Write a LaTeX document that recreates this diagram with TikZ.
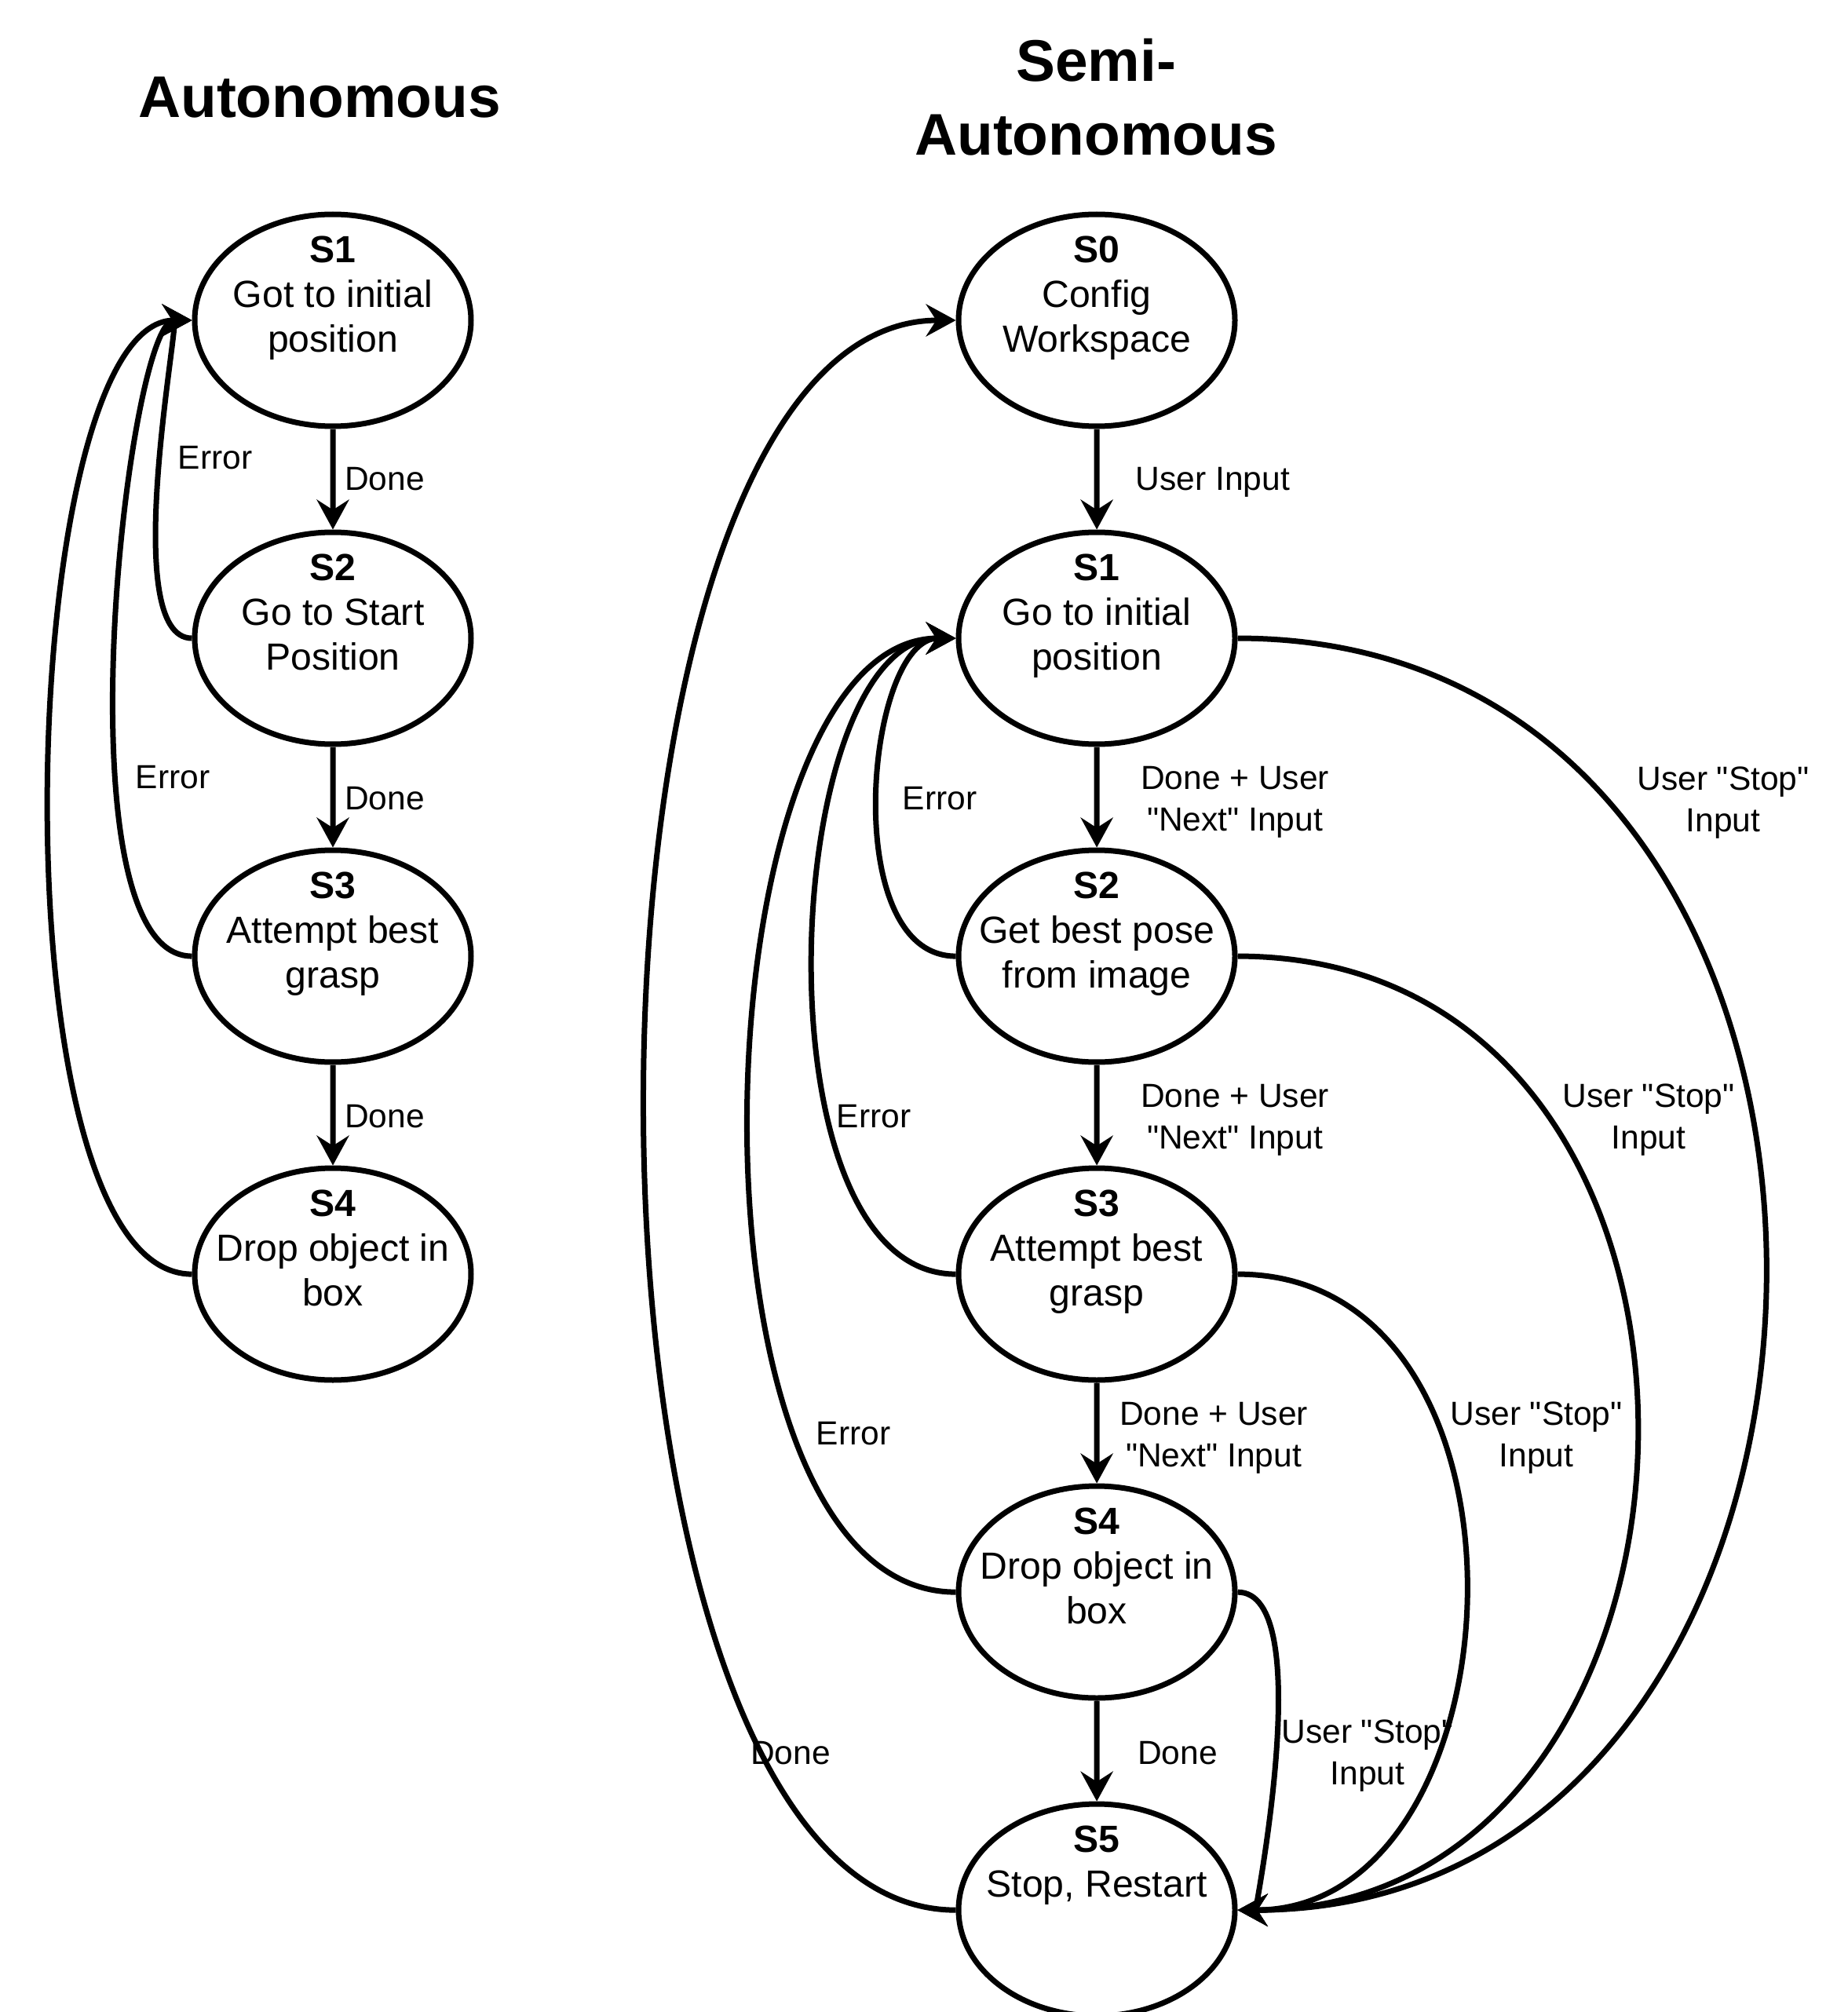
\documentclass[tikz,border=0pt]{standalone}
\usepackage{fontspec}
\setmainfont{Liberation Sans}[Ligatures=TeXOff]
\usetikzlibrary{arrows.meta,shapes.geometric}

\begin{document}
\begin{tikzpicture}[scale=0.1]
        \tikzstyle{every node}+=[inner sep=0pt]
        \tikzstyle{stateshape}=[draw=black, line width=0.07cm, ellipse, minimum width=3.52cm, minimum height=2.7cm]
        \tikzstyle{statetext}=[anchor=north, align=center, font=\fontsize{13.7}{16.3}\selectfont]
        \tikzstyle{lbl}=[align=center, font=\fontsize{12.1}{15.1}\selectfont]
        \tikzstyle{heading}=[align=center, font=\fontsize{21.3}{26.5}\selectfont\bfseries]
        \tikzstyle{trans}=[draw=black, line width=0.07cm, -{Stealth[length=0.38cm, width=0.41cm, inset=0.13cm]}]
        \useasboundingbox (0,0) rectangle (235.3,-256.3);
        \node [heading, anchor=base] (tauto) at (40.7,-15.0) {Autonomous};
        \node [heading, anchor=north] (tsemi) at (139.6,-4.9) {Semi-\\Autonomous};
        \node [stateshape] (a1) at (42.4,-40.8) {};
        \node [statetext] (a1txt) at (42.4,-30.0) {\textbf{S1}\\Got to initial\\position};
        \node [stateshape] (a2) at (42.4,-81.3) {};
        \node [statetext] (a2txt) at (42.4,-70.5) {\textbf{S2}\\Go to Start\\Position};
        \node [stateshape] (a3) at (42.4,-121.8) {};
        \node [statetext] (a3txt) at (42.4,-111.0) {\textbf{S3}\\Attempt best\\grasp};
        \node [stateshape] (a4) at (42.4,-162.3) {};
        \node [statetext] (a4txt) at (42.4,-151.5) {\textbf{S4}\\Drop object in\\box};
        \node [stateshape] (r0) at (139.7,-40.8) {};
        \node [statetext] (r0txt) at (139.7,-30.0) {\textbf{S0}\\Config\\Workspace};
        \node [stateshape] (r1) at (139.7,-81.3) {};
        \node [statetext] (r1txt) at (139.7,-70.5) {\textbf{S1}\\Go to initial\\position};
        \node [stateshape] (r2) at (139.7,-121.8) {};
        \node [statetext] (r2txt) at (139.7,-111.0) {\textbf{S2}\\Get best pose\\from image};
        \node [stateshape] (r3) at (139.7,-162.3) {};
        \node [statetext] (r3txt) at (139.7,-151.5) {\textbf{S3}\\Attempt best\\grasp};
        \node [stateshape] (r4) at (139.7,-202.8) {};
        \node [statetext] (r4txt) at (139.7,-192.0) {\textbf{S4}\\Drop object in\\box};
        \node [stateshape] (r5) at (139.7,-243.3) {};
        \node [statetext] (r5txt) at (139.7,-232.5) {\textbf{S5}\\Stop, Restart};
        \draw [trans] (a1) -- (a2);
        \node [lbl] (adone1) at (49.0,-61.0) {Done};
        \draw [trans] (a2) -- (a3);
        \node [lbl] (adone2) at (49.0,-101.7) {Done};
        \draw [trans] (a3) -- (a4);
        \node [lbl] (adone3) at (49.0,-142.2) {Done};
        \draw [trans] (a2.west) .. controls +(-9.4,0) and +(-1.5,0) .. (a1.west);
        \node [lbl] (aerr1) at (27.4,-58.3) {Error};
        \draw [trans] (a3.west) .. controls +(-17.5,0) and +(-8.2,0) .. (a1.west);
        \node [lbl] (aerr2) at (22.0,-99.0) {Error};
        \draw [trans] (a4.west) .. controls +(-25.8,0) and +(-22.6,0) .. (a1.west);
        \draw [trans] (r0) -- (r1);
        \node [lbl] (ruser) at (154.5,-61.4) {User Input};
        \draw [trans] (r1) -- (r2);
        \node [lbl] (rnext1) at (157.3,-102.2) {Done + User\\"Next" Input};
        \draw [trans] (r2) -- (r3);
        \node [lbl] (rnext2) at (157.3,-142.7) {Done + User\\"Next" Input};
        \draw [trans] (r3) -- (r4);
        \node [lbl] (rnext3) at (154.6,-183.2) {Done + User\\"Next" Input};
        \draw [trans] (r4) -- (r5);
        \node [lbl] (rdone1) at (150.0,-223.3) {Done};
        \draw [trans] (r5.west) .. controls +(-52.8,0) and +(-52.6,0) .. (r0.west);
        \node [lbl] (rdone2) at (100.7,-223.3) {Done};
        \draw [trans] (r2.west) .. controls +(-15.1,0) and +(-11.4,0) .. (r1.west);
        \node [lbl] (rerr1) at (119.7,-101.7) {Error};
        \draw [trans] (r3.west) .. controls +(-26.1,0) and +(-22.3,0) .. (r1.west);
        \node [lbl] (rerr2) at (111.3,-142.2) {Error};
        \draw [trans] (r4.west) .. controls +(-37.0,0) and +(-33.2,0) .. (r1.west);
        \node [lbl] (rerr3) at (108.7,-182.6) {Error};
        \draw [trans] (r1.east) .. controls +(91.3,0) and +(87.6,0) .. (r5.east);
        \node [lbl] (rstop1) at (219.5,-102.3) {User "Stop"\\Input};
        \draw [trans] (r2.east) .. controls +(69.5,0) and +(65.8,0) .. (r5.east);
        \node [lbl] (rstop2) at (210.0,-142.7) {User "Stop"\\Input};
        \draw [trans] (r3.east) .. controls +(40.5,0) and +(36.8,0) .. (r5.east);
        \node [lbl] (rstop3) at (195.7,-183.2) {User "Stop"\\Input};
        \draw [trans] (r4.east) .. controls +(10.2,0) and +(2.2,0) .. (r5.east);
        \node [lbl] (rstop4) at (174.2,-223.7) {User "Stop"\\Input};
    \end{tikzpicture}
\end{document}
